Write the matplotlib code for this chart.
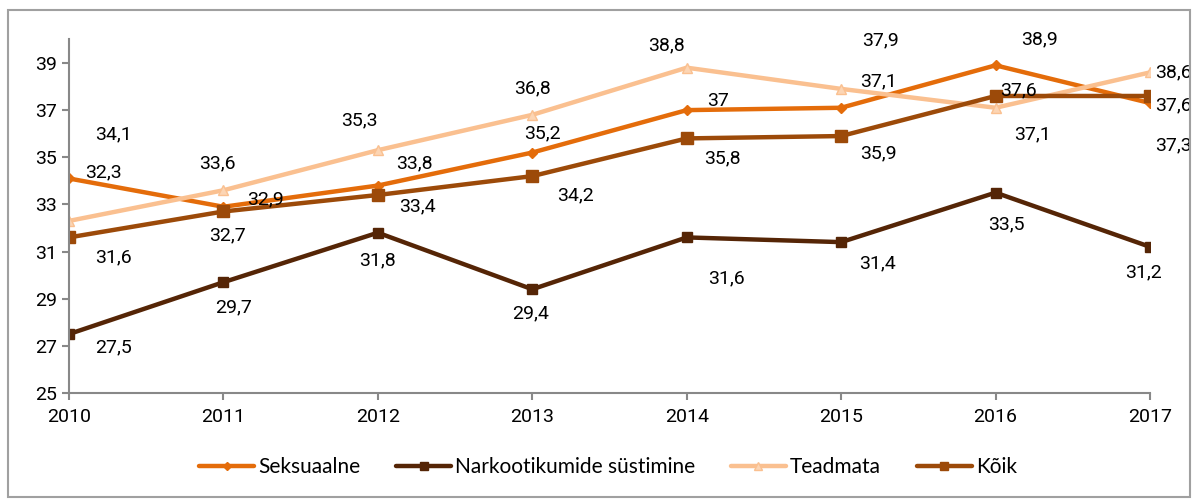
import matplotlib.pyplot as plt
from matplotlib.patches import Rectangle

years = [2010, 2011, 2012, 2013, 2014, 2015, 2016, 2017]
seksuaalne = [34.1, 32.9, 33.8, 35.2, 37.0, 37.1, 38.9, 37.3]
narko = [27.5, 29.7, 31.8, 29.4, 31.6, 31.4, 33.5, 31.2]
teadmata = [32.3, 33.6, 35.3, 36.8, 38.8, 37.9, 37.1, 38.6]
koik = [31.6, 32.7, 33.4, 34.2, 35.8, 35.9, 37.6, 37.6]

# label offsets (pixels) as placed in the original chart
off_seks = [(44, 44), (42, 7), (37, 22), (10, 19), (31, 9), (37, 26), (44, 26), (23, -42)]
off_narko = [(44, -13), (10, -25), (0, -28), (-2, -24), (40, -41), (36, -21), (11, -32), (-7, -26)]
off_tead = [(34, 49), (-6, 27), (-18, 30), (0, 26), (-20, 22), (39, 49), (37, -27), (23, 0)]
off_koik = [(44, -20), (4, -24), (40, -11), (43, -19), (36, -20), (37, -17), (23, 6), (23, -9)]

plt.rcParams['font.family'] = ['Roboto', 'DejaVu Sans']

fig = plt.figure(figsize=(11.96, 5.01), dpi=100)
fig.patches.append(Rectangle((8 / 1196, 4 / 501), 1182 / 1196, 487 / 501,
                             transform=fig.transFigure, fill=False,
                             edgecolor='#a0a0a0', linewidth=1.5))
ax = fig.add_axes([69 / 1196, 1 - 393 / 501, 1081 / 1196, (393 - 39.4) / 501])

series = [
    ('Seksuaalne', seksuaalne, '#E46C0A', 'D', 5, '#E46C0A', off_seks),
    ('Narkootikumide süstimine', narko, '#552506', 's', 7, '#552506', off_narko),
    ('Teadmata', teadmata, '#FAC090', '^', 7, '#FCD5B4', off_tead),
    ('Kõik', koik, '#9C4A09', 's', 8, '#9C4A09', off_koik),
]

for name, vals, col, mk, ms, fc, offs in series:
    ax.plot(years, vals, color=col, linewidth=3.2, marker=mk, markersize=ms,
            markerfacecolor=fc, markeredgecolor=col, label=name,
            solid_capstyle='round')
    for x, v, (dx, dy) in zip(years, vals, offs):
        txt = ('%g' % v).replace('.', ',')
        ax.annotate(txt, (x, v), xytext=(dx, dy), textcoords='offset pixels',
                    ha='center', va='center', fontsize=14, color='black')

ax.set_xlim(2010, 2017)
ax.set_ylim(25, 40)
ax.set_yticks(range(25, 40, 2))
ax.set_xticks(years)
for s in ['top', 'right']:
    ax.spines[s].set_visible(False)
for s in ['left', 'bottom']:
    ax.spines[s].set_color('#888888')
    ax.spines[s].set_linewidth(1.5)
ax.tick_params(axis='both', colors='#888888', length=5, width=1.5, labelsize=14,
               labelcolor='black')
ax.tick_params(axis='x', pad=6)

leg = fig.legend(loc='center', bbox_to_anchor=(608 / 1196, 1 - 467 / 501), ncol=4,
                 frameon=False, handlelength=2.65, handletextpad=0.2,
                 columnspacing=1.7, markerscale=0.8,
                 prop={'family': 'Lato', 'size': 15})

fig.savefig('out.png', dpi=100)
